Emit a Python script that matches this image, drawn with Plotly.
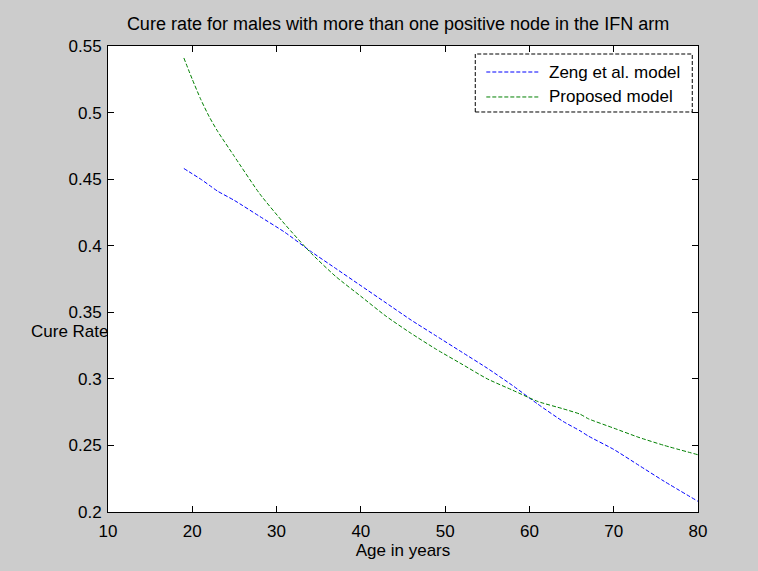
import plotly.graph_objects as go

# Data
ages = [19, 20, 21, 22, 23, 25, 28, 31, 34, 37, 40, 43, 46, 49, 52, 55, 58, 61, 64, 66, 67, 70, 73, 76, 80]
zeng = [0.458, 0.454, 0.450, 0.4455, 0.441, 0.434, 0.422, 0.410, 0.396, 0.383, 0.370, 0.357, 0.344, 0.332,
        0.320, 0.308, 0.295, 0.281, 0.268, 0.261, 0.257, 0.247, 0.235, 0.223, 0.208]
proposed = [0.541, 0.525, 0.510, 0.497, 0.486, 0.467, 0.439, 0.416, 0.395, 0.377, 0.362, 0.347, 0.334, 0.322,
            0.311, 0.300, 0.2915, 0.283, 0.2775, 0.2735, 0.270, 0.263, 0.256, 0.250, 0.243]
series_names = ["Zeng et al. model", "Proposed model"]
series_colors = ["#0000ff", "#008000"]

x_ticks = [10, 20, 30, 40, 50, 60, 70, 80]
y_ticks = [0.2, 0.25, 0.3, 0.35, 0.4, 0.45, 0.5, 0.55]
y_tick_labels = ["0.2", "0.25", "0.3", "0.35", "0.4", "0.45", "0.5", "0.55"]

FONT = "Liberation Sans, Arial, Helvetica, sans-serif"
DASH = "4px,2px"

fig = go.Figure()
for ys, name, col in zip([zeng, proposed], series_names, series_colors):
    fig.add_trace(go.Scatter(x=ages, y=ys, mode="lines", name=name, showlegend=False,
                             line=dict(color=col, width=1, dash=DASH, shape="spline", smoothing=0.6)))

axis_common = dict(showline=True, linecolor="black", linewidth=1, mirror="ticks",
                   ticks="inside", ticklen=6, tickcolor="black", tickwidth=1,
                   showgrid=False, zeroline=False,
                   tickfont=dict(family=FONT, size=17, color="black"))

fig.update_xaxes(range=[10, 80], tickvals=x_ticks, ticklabelstandoff=4,
                 title=dict(text="Age in years", font=dict(family=FONT, size=17, color="black"),
                            standoff=2),
                 **axis_common)
fig.update_yaxes(range=[0.2, 0.55], tickvals=y_ticks, ticktext=y_tick_labels,
                 ticklabelstandoff=2, **axis_common)

# MATLAB-style legend box with dashed frame
fig.add_shape(type="rect", xref="paper", yref="paper",
              x0=0.6225, x1=0.9903, y0=0.8584, y1=0.9828,
              line=dict(color="black", width=1, dash=DASH),
              fillcolor="white", layer="above")
legend_rows_y = [0.9442, 0.8906]
for name, col, ly in zip(series_names, series_colors, legend_rows_y):
    fig.add_shape(type="line", xref="paper", yref="paper",
                  x0=0.6412, x1=0.7327, y0=ly, y1=ly,
                  line=dict(color=col, width=1, dash=DASH), layer="above")
    fig.add_annotation(text=name, xref="paper", yref="paper", x=0.7446, y=ly,
                       xanchor="left", yanchor="middle", showarrow=False,
                       font=dict(family=FONT, size=17, color="black"))

fig.add_annotation(text="Cure Rate", xref="paper", yref="paper", x=0.004, y=0.3884,
                   xanchor="right", yanchor="middle", showarrow=False,
                   font=dict(family=FONT, size=17, color="black"))

fig.update_layout(
    width=758, height=571,
    margin=dict(l=108, r=60, t=46, b=59),
    paper_bgcolor="#cccccc", plot_bgcolor="white",
    title=dict(text="Cure rate for males with more than one positive node in the IFN arm",
               x=(398 / 758), xanchor="center", y=1 - 24 / 571, yanchor="middle",
               font=dict(family=FONT, size=18, color="black")),
    showlegend=False,
)

fig.write_html("out.html")
